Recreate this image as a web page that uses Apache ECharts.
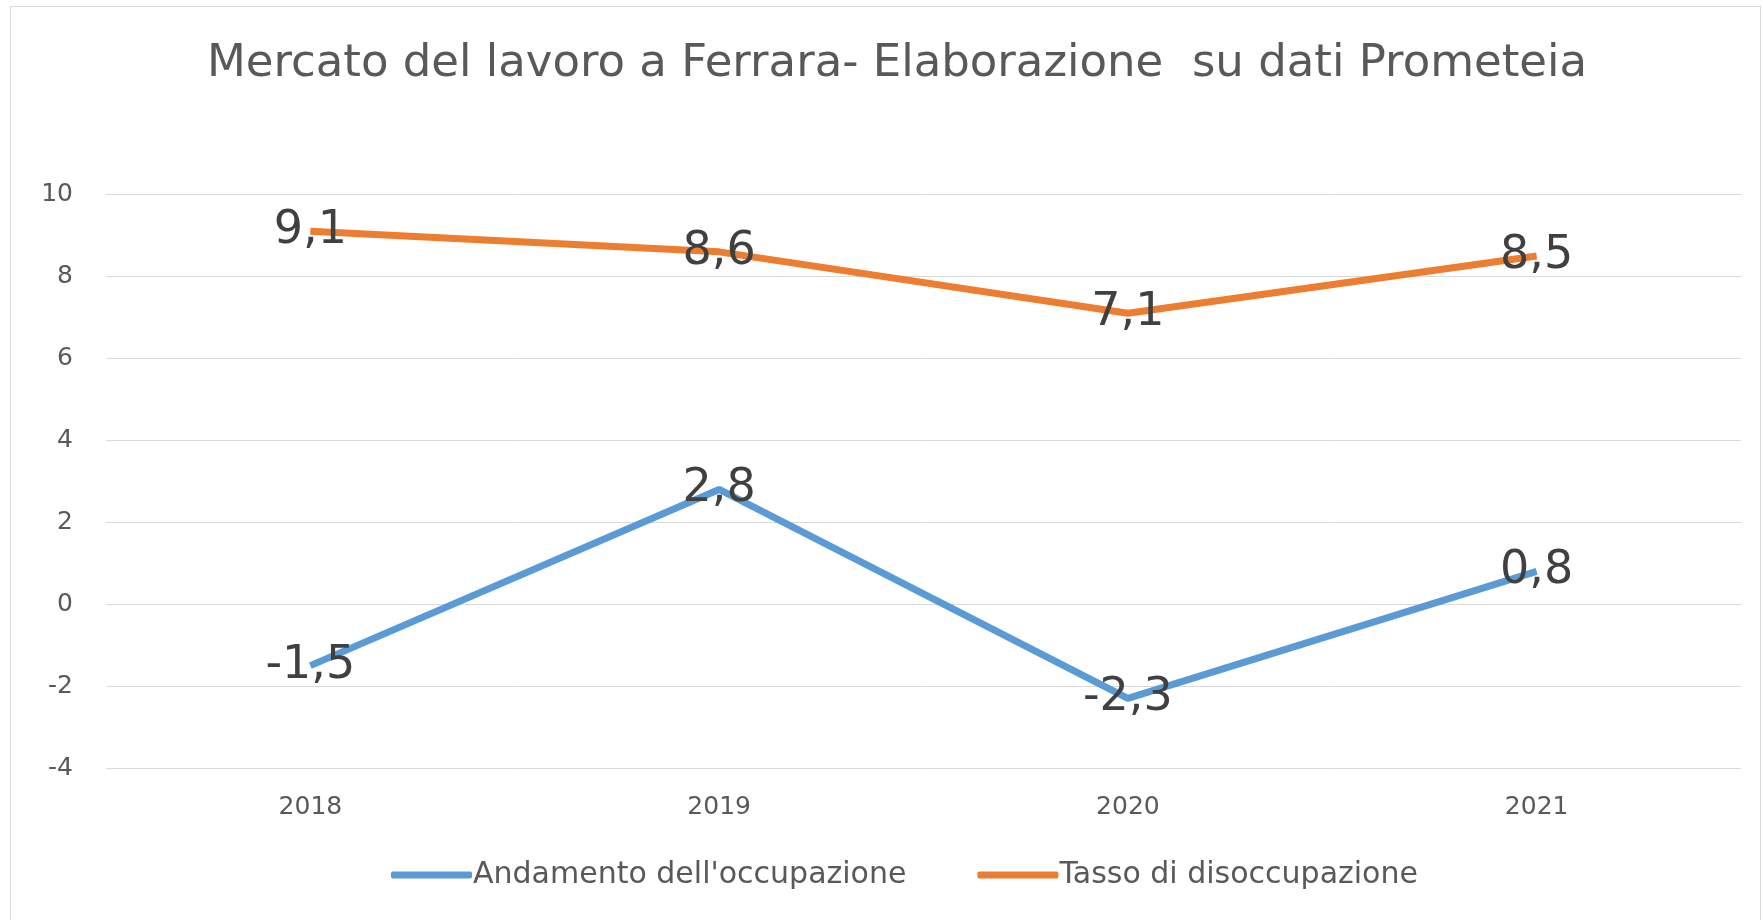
<!DOCTYPE html>
<html>
<head>
<meta charset="utf-8">
<script src="https://cdn.jsdelivr.net/npm/echarts@6/dist/echarts.min.js"></script>
<style>
  html, body { margin: 0; padding: 0; background: #fff; }
  #main { width: 1763px; height: 920px; }
  #frame { position: absolute; left: 10px; top: 6px; width: 1751px; height: 940px;
           border: 1px solid #d9d9d9; pointer-events: none; box-sizing: border-box; }
</style>
</head>
<body>
<div id="main"></div>
<div id="frame"></div>
<script>
var anni = ['2018', '2019', '2020', '2021'];
var occupazione = [-1.5, 2.8, -2.3, 0.8];
var disoccupazione = [9.1, 8.6, 7.1, 8.5];
var nomeSerie = ["Andamento dell'occupazione", 'Tasso di disoccupazione'];
var colori = ['#5b9bd5', '#ed7d31'];

var myChart = echarts.init(document.getElementById('main'));

var fmt = function (p) { return String(p.value).replace('.', ','); };

var serie = function (nome, dati, colore) {
    return {
        name: nome,
        type: 'line',
        data: dati,
        symbol: 'circle',
        symbolSize: 1,
        itemStyle: { color: colore },
        lineStyle: { color: colore, width: 7 },
        label: {
            show: true,
            position: 'inside',
            formatter: fmt,
            fontFamily: 'DejaVu Sans',
            fontSize: 46,
            color: '#404040'
        }
    };
};

option =
{
    animation: false,
    title:
    {
        text: 'Mercato del lavoro a Ferrara- Elaborazione  su dati Prometeia',
        left: 897,
        textAlign: 'center',
        top: 42,
        padding: 0,
        textStyle:
        {
            fontFamily: 'DejaVu Sans',
            fontSize: 45,
            fontWeight: 'normal',
            color: '#595959'
        }
    },
    legend:
    {
        left: 391,
        top: 860,
        padding: 0,
        itemWidth: 81,
        itemHeight: 7,
        itemGap: 71,
        icon: 'roundRect',
        textStyle:
        {
            fontFamily: 'DejaVu Sans',
            fontSize: 30,
            color: '#595959',
            padding: [0, 0, 0, -4]
        },
        data: nomeSerie
    },
    grid:
    {
        left: 106,
        right: 22,
        top: 194.5,
        bottom: 152
    },
    xAxis:
    {
        type: 'category',
        data: anni,
        axisLine: { show: false },
        axisTick: { show: false },
        axisLabel:
        {
            margin: 27,
            fontFamily: 'DejaVu Sans',
            fontSize: 25,
            color: '#595959'
        }
    },
    yAxis:
    {
        type: 'value',
        min: -4,
        max: 10,
        interval: 2,
        axisLine: { show: false },
        axisTick: { show: false },
        splitLine: { lineStyle: { color: '#d9d9d9', width: 1 } },
        axisLabel:
        {
            margin: 33,
            fontFamily: 'DejaVu Sans',
            fontSize: 25,
            color: '#595959'
        }
    },
    series:
    [
        serie(nomeSerie[0], occupazione, colori[0]),
        serie(nomeSerie[1], disoccupazione, colori[1])
    ]
};

myChart.setOption(option);
</script>
</body>
</html>
